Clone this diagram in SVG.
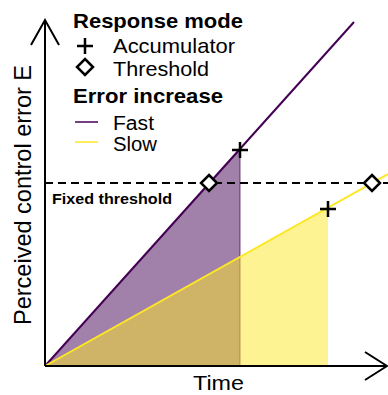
<svg xmlns="http://www.w3.org/2000/svg" width="388" height="395" viewBox="0 0 388 395">
<style>
text{font-family:"Liberation Sans",Arial,sans-serif;fill:#000}
.b{font-weight:bold}
.ax{stroke:#000;stroke-width:2;fill:none}
.plus{stroke:#000;stroke-width:2.5;fill:none}
.dia{stroke:#000;stroke-width:2.5;fill:#fff}
</style>
<defs>
<path id="plus" class="plus" d="M-8,0H8M0,-8V8"/>
<path id="dia" class="dia" d="M0,-8L8,0L0,8L-8,0Z"/>
</defs>
<rect width="388" height="395" fill="#fff"/>
<g id="areas">
<polygon points="45,366 240,150 240,366" fill="#440154" fill-opacity="0.5" stroke="#440154" stroke-width="1" stroke-opacity="0.7"/>
<polygon points="45,366 328,208 328,366" fill="#FDE725" fill-opacity="0.5"/>
</g>
<g id="connectors">
<line x1="45" y1="183" x2="388" y2="183" stroke="#000" stroke-width="2" stroke-dasharray="8,5"/>
<line x1="45" y1="366" x2="354" y2="22" stroke="#440154" stroke-width="2"/>
<line x1="45" y1="366" x2="388" y2="174" stroke="#FDE725" stroke-width="2"/>
<path class="ax" d="M45,366V20M31,45L45,20L59,45"/>
<path class="ax" d="M45,366H387M365,352L387,366L365,380"/>
</g>
<g id="markers">
<use href="#dia" x="209" y="183"/>
<use href="#dia" x="372" y="183"/>
<use href="#plus" x="240" y="150"/>
<use href="#plus" x="328" y="209"/>
</g>
<g id="labels">
<text x="52" y="204" class="b" font-size="15" textLength="120" lengthAdjust="spacingAndGlyphs">Fixed threshold</text>
<text transform="translate(31,195) rotate(-90)" text-anchor="middle" font-size="24" textLength="260" lengthAdjust="spacingAndGlyphs">Perceived control error E</text>
<text x="193" y="390" font-size="21" textLength="51" lengthAdjust="spacingAndGlyphs">Time</text>
</g>
<g id="legend">
<text x="73" y="28" class="b" font-size="20.5" textLength="170" lengthAdjust="spacingAndGlyphs">Response mode</text>
<use href="#plus" x="85" y="46"/>
<text x="113" y="53" font-size="21" textLength="122" lengthAdjust="spacingAndGlyphs">Accumulator</text>
<use href="#dia" x="85" y="67"/>
<text x="113" y="76" font-size="21" textLength="96" lengthAdjust="spacingAndGlyphs">Threshold</text>
<text x="73" y="103" class="b" font-size="20.5" textLength="150" lengthAdjust="spacingAndGlyphs">Error increase</text>
<line x1="75" y1="122" x2="98" y2="122" stroke="#440154" stroke-width="1.5"/>
<text x="113" y="129.5" font-size="19.5" textLength="41" lengthAdjust="spacingAndGlyphs">Fast</text>
<line x1="75" y1="142" x2="98" y2="142" stroke="#FDE725" stroke-width="1.5"/>
<text x="113" y="151" font-size="19.5" textLength="44" lengthAdjust="spacingAndGlyphs">Slow</text>
</g>
</svg>
